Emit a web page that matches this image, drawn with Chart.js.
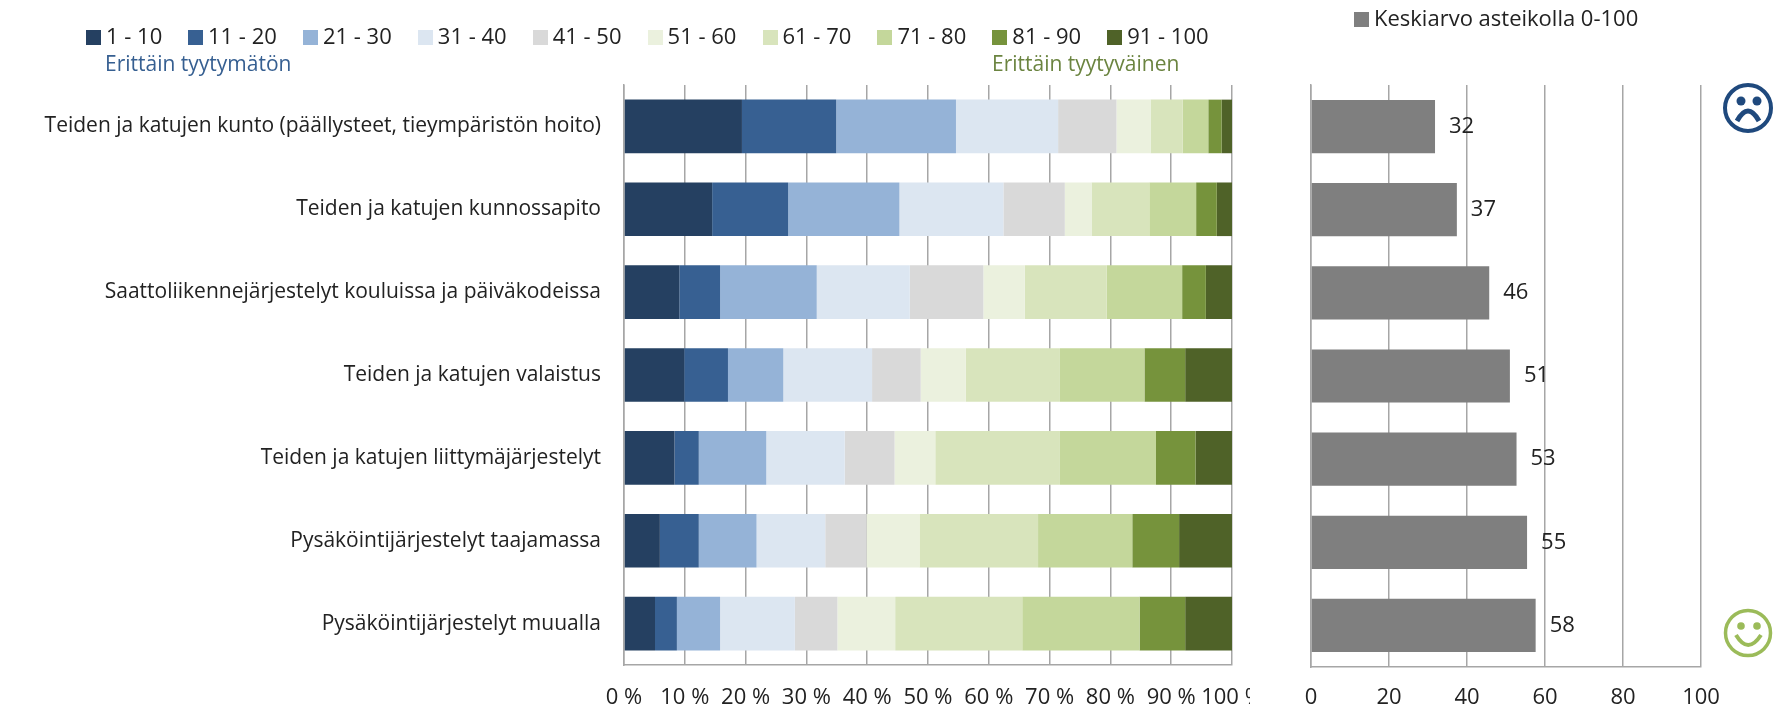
<!DOCTYPE html>
<html>
<head>
<meta charset="utf-8">
<script src="https://cdn.jsdelivr.net/npm/chart.js@4"></script>
<style>
  html, body { margin: 0; background: #fff; }
  body { width: 1785px; height: 709px; position: relative; overflow: hidden; font-family: "Open Sans", sans-serif; color: #222; }
  canvas { position: absolute; top: 0; }
  .legend-item { position: absolute; top: 23px; height: 24px; line-height: 24px; font-size: 22px; white-space: nowrap; }
  .legend-item i { display: inline-block; width: 15px; height: 15px; margin-right: 5px; vertical-align: -1px; }
  .note { position: absolute; top: 51px; font-size: 21px; line-height: 24px; white-space: nowrap; }
  svg { position: absolute; left: 0; top: 0; }
</style>
</head>
<body>
<canvas id="jakauma"></canvas>
<canvas id="keskiarvo"></canvas>
<div id="legend"></div>
<div class="note" style="left:105px;color:#365f91">Erittäin tyytymätön</div>
<div class="note" style="left:992px;color:#6b8440">Erittäin tyytyväinen</div>
<svg width="1785" height="709" fill="none">
  <g stroke="#1f497d">
    <circle cx="1748" cy="108" r="23" stroke-width="4"/>
    <path d="M1737 121 Q1748 101 1759 121" stroke-width="5"/>
    <circle cx="1741" cy="101" r="4.5" fill="#1f497d" stroke="none"/>
    <circle cx="1757" cy="101" r="4.5" fill="#1f497d" stroke="none"/>
  </g>
  <g stroke="#9bbb59">
    <circle cx="1748" cy="633" r="22.5" stroke-width="3.5"/>
    <path d="M1736 635 Q1748 655 1761 635" stroke-width="4"/>
    <circle cx="1741" cy="626" r="3.8" fill="#9bbb59" stroke="none"/>
    <circle cx="1757" cy="626" r="3.8" fill="#9bbb59" stroke="none"/>
  </g>
</svg>
<script>
const categories = [
  "Teiden ja katujen kunto (päällysteet, tieympäristön hoito)",
  "Teiden ja katujen kunnossapito",
  "Saattoliikennejärjestelyt kouluissa ja päiväkodeissa",
  "Teiden ja katujen valaistus",
  "Teiden ja katujen liittymäjärjestelyt",
  "Pysäköintijärjestelyt taajamassa",
  "Pysäköintijärjestelyt muualla"
];
const classNames = ["1 - 10", "11 - 20", "21 - 30", "31 - 40", "41 - 50", "51 - 60", "61 - 70", "71 - 80", "81 - 90", "91 - 100"];
const classColors = ["#254061", "#376092", "#95b3d7", "#dce6f1", "#d9d9d9", "#ebf1de", "#d8e4bc", "#c4d79b", "#76933c", "#4f6228"];
// luetut osuudet riveittäin (%)
const row1 = [19.4, 15.5, 19.7, 16.8, 9.6, 5.6, 5.3, 4.2, 2.2, 1.7];
const row2 = [14.5, 12.5, 18.3, 17.1, 10.1, 4.4, 9.5, 7.7, 3.4, 2.5];
const row3 = [9.1, 6.7, 15.9, 15.3, 12.1, 6.8, 13.5, 12.4, 3.9, 4.3];
const row4 = [9.9, 7.2, 9.1, 14.6, 8.0, 7.4, 15.5, 13.9, 6.7, 7.7];
const row5 = [8.3, 4.0, 11.1, 12.9, 8.2, 6.7, 20.5, 15.8, 6.5, 6.0];
const row6 = [5.9, 6.4, 9.5, 11.3, 6.8, 8.7, 19.5, 15.5, 7.7, 8.7];
const row7 = [5.1, 3.6, 7.1, 12.3, 7.0, 9.5, 20.9, 19.3, 7.5, 7.7];
const rows = [row1, row2, row3, row4, row5, row6, row7];
const averageName = "Keskiarvo asteikolla 0-100";
const averages = [31.8, 37.4, 45.7, 51, 52.7, 55.4, 57.6];

const gridColor = "#a6a6a6";
const textColor = "#222";
const labelFont = { family: "Open Sans", size: 21 };
const tickFont = { family: "Open Sans", size: 22 };

// selite tehdään html:nä, jotta välit saa samoiksi kuin kuvassa
const legendBox = document.getElementById("legend");
function addLegend(name, color, left, top) {
  const item = document.createElement("div");
  item.className = "legend-item";
  item.style.left = left + "px";
  if (top !== undefined) item.style.top = top + "px";
  item.innerHTML = '<i style="background:' + color + '"></i>' + name;
  legendBox.appendChild(item);
}
classNames.forEach((name, i) => {
  addLegend(name, classColors[i], i === 0 ? 86 : 188 + (i - 1) * 114.9);
});
addLegend(averageName, "#7f7f7f", 1354, 5);

function setup(canvas, left, width) {
  canvas.width = width;
  canvas.height = 709;
  canvas.style.left = left + "px";
  canvas.style.width = width + "px";
  canvas.style.height = "709px";
  return canvas.getContext("2d");
}

// x-akselin reunatekstit eivät saa kaventaa piirtoaluetta
function fitBottom(height) {
  return (s) => {
    s.height = height;
    s.paddingLeft = 0;
    s.paddingRight = 0;
  };
}

// vasen kuvaaja, pinottu 100 %
new Chart(setup(document.getElementById("jakauma"), 0, 1250), {
  type: "bar",
  data: {
    labels: categories,
    datasets: classNames.map((name, i) => ({
      label: name,
      data: rows.map((r) => r[i]),
      backgroundColor: classColors[i],
      borderWidth: 0,
      categoryPercentage: 1,
      barPercentage: 0.647,
    })),
  },
  options: {
    indexAxis: "y",
    responsive: false,
    animation: false,
    layout: { autoPadding: false, padding: { top: 85, right: 18, left: 0, bottom: 0 } },
    plugins: { legend: { display: false }, tooltip: { enabled: false } },
    scales: {
      x: {
        stacked: true,
        min: 0,
        max: 100,
        afterFit: fitBottom(44),
        grid: { color: gridColor, lineWidth: 1.5, drawTicks: false },
        border: { color: gridColor, width: 1.5 },
        ticks: { stepSize: 10, autoSkip: false, padding: 20, maxRotation: 0, color: textColor, font: tickFont, callback: (v) => v + " %" },
      },
      y: {
        stacked: true,
        afterFit: (s) => { s.width = 624; },
        grid: { display: false, drawTicks: false },
        border: { color: gridColor, width: 1.5 },
        ticks: { padding: 23, color: textColor, font: labelFont },
      },
    },
  },
});

// arvot palkkien perään
const valueLabels = {
  id: "valueLabels",
  afterDatasetsDraw(chart) {
    const ctx = chart.ctx;
    ctx.save();
    ctx.font = "22px 'Open Sans'";
    ctx.fillStyle = textColor;
    ctx.textBaseline = "middle";
    chart.getDatasetMeta(0).data.forEach((bar, i) => {
      ctx.fillText(Math.round(averages[i]), bar.x + 14, bar.y);
    });
    ctx.restore();
  },
};

// oikea kuvaaja
new Chart(setup(document.getElementById("keskiarvo"), 1250, 535), {
  type: "bar",
  data: {
    labels: categories,
    datasets: [{
      label: averageName,
      data: averages,
      backgroundColor: "#7f7f7f",
      borderWidth: 0,
      categoryPercentage: 1,
      barPercentage: 0.64,
    }],
  },
  plugins: [valueLabels],
  options: {
    indexAxis: "y",
    responsive: false,
    animation: false,
    layout: { autoPadding: false, padding: { top: 85, right: 84, left: 61, bottom: 0 } },
    plugins: { legend: { display: false }, tooltip: { enabled: false } },
    scales: {
      x: {
        min: 0,
        max: 100,
        afterFit: fitBottom(42),
        grid: { color: gridColor, lineWidth: 1.5, drawTicks: false },
        border: { color: gridColor, width: 1.5 },
        ticks: { stepSize: 20, autoSkip: false, padding: 18, maxRotation: 0, color: textColor, font: tickFont },
      },
      y: {
        afterFit: (s) => { s.width = 0; },
        grid: { display: false, drawTicks: false },
        border: { color: gridColor, width: 1.5 },
        ticks: { display: false },
      },
    },
  },
});
</script>
</body>
</html>
